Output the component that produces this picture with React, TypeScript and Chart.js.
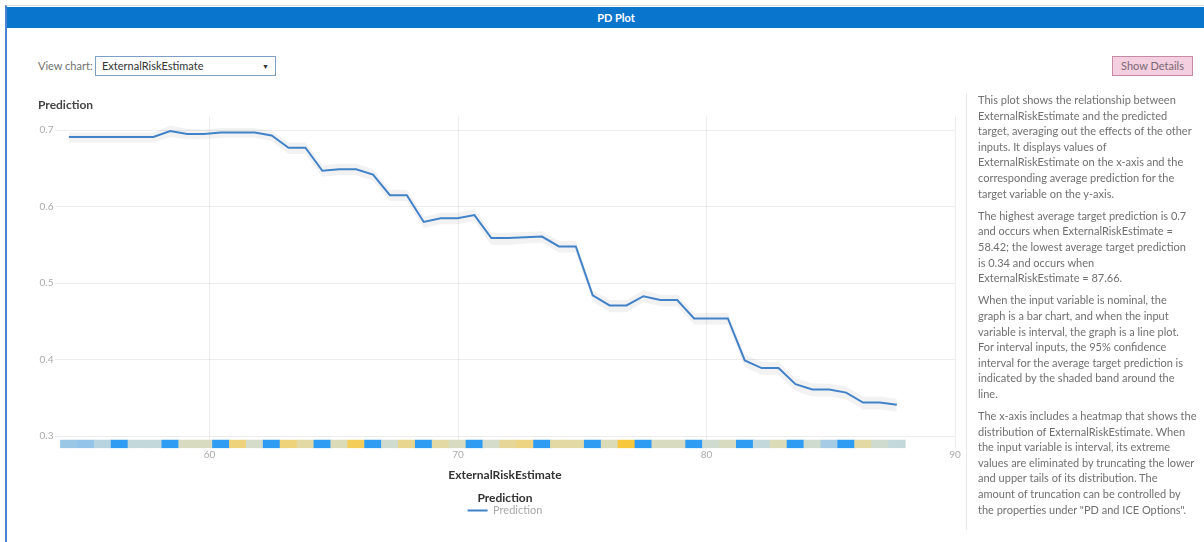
import React, { useEffect, useRef } from "react";
import { Chart, registerables } from "chart.js";

Chart.register(...registerables);

// ExternalRiskEstimate grid values (x) used by the PD computation
const xValues = [
  54.34, 55.02, 55.7, 56.38, 57.06, 57.74, 58.42, 59.1, 59.78, 60.46,
  61.14, 61.82, 62.5, 63.18, 63.86, 64.54, 65.22, 65.9, 66.58, 67.26,
  67.94, 68.62, 69.3, 69.98, 70.66, 71.34, 72.02, 72.7, 73.38, 74.06,
  74.74, 75.42, 76.1, 76.78, 77.46, 78.14, 78.82, 79.5, 80.18, 80.86,
  81.54, 82.22, 82.9, 83.58, 84.26, 84.94, 85.62, 86.3, 86.98, 87.66,
];

// Average prediction (partial dependence)
const predictions = [
  0.691, 0.691, 0.691, 0.691, 0.691, 0.691, 0.699, 0.695, 0.695, 0.697,
  0.697, 0.697, 0.693, 0.677, 0.677, 0.647, 0.649, 0.649, 0.642, 0.615,
  0.615, 0.58, 0.585, 0.585, 0.589, 0.559, 0.559, 0.56, 0.561, 0.548,
  0.548, 0.484, 0.471, 0.471, 0.483, 0.478, 0.478, 0.454, 0.454, 0.454,
  0.399, 0.389, 0.389, 0.368, 0.361, 0.361, 0.357, 0.344, 0.344, 0.341,
];

// 95% confidence band
const upperCI = [
  0.697, 0.697, 0.697, 0.697, 0.697, 0.697, 0.706, 0.702, 0.701, 0.703,
  0.703, 0.703, 0.699, 0.684, 0.684, 0.654, 0.656, 0.656, 0.649, 0.622,
  0.622, 0.587, 0.592, 0.592, 0.597, 0.566, 0.566, 0.567, 0.568, 0.555,
  0.555, 0.491, 0.478, 0.478, 0.491, 0.485, 0.485, 0.461, 0.461, 0.461,
  0.407, 0.397, 0.397, 0.376, 0.369, 0.369, 0.365, 0.352, 0.352, 0.349,
];
const lowerCI = [
  0.684, 0.684, 0.684, 0.684, 0.684, 0.684, 0.691, 0.688, 0.688, 0.69,
  0.69, 0.69, 0.686, 0.669, 0.669, 0.639, 0.641, 0.641, 0.634, 0.607,
  0.607, 0.572, 0.577, 0.577, 0.581, 0.55, 0.55, 0.552, 0.553, 0.54,
  0.54, 0.476, 0.462, 0.462, 0.475, 0.47, 0.47, 0.446, 0.446, 0.446,
  0.39, 0.38, 0.38, 0.359, 0.352, 0.352, 0.348, 0.335, 0.335, 0.332,
];

// Relative frequency of ExternalRiskEstimate per bin (0..10) for the heatmap strip
const heatLevels = [
  1.5, 1.2, 2.8, 0, 3.5, 3.5, 0, 5.5, 5.5, 0,
  8.8, 5, 0, 8.8, 7, 0, 6, 9.5, 0, 4.5,
  8, 0, 7, 5.5, 0, 5, 7.5, 8.5, 0, 7,
  7, 0, 6, 10, 0, 5.5, 5.5, 0, 4.5, 5.5,
  0, 3.5, 6, 0, 4.5, 2, 0, 7, 4.5, 3.5,
];

const xTicks = [60, 70, 80, 90];
const yTicks = [0.3, 0.4, 0.5, 0.6, 0.7];

const heatStops: [number, number[]][] = [
  [0, [47, 156, 244]],
  [1, [143, 194, 234]],
  [3, [189, 214, 223]],
  [5, [213, 220, 201]],
  [7, [227, 217, 165]],
  [9, [239, 210, 118]],
  [10, [248, 200, 60]],
];

function heatColor(v: number): string {
  for (let i = 0; i < heatStops.length - 1; i++) {
    const [a, ca] = heatStops[i];
    const [b, cb] = heatStops[i + 1];
    if (v <= b) {
      const t = (v - a) / (b - a);
      const c = ca.map((k, j) => Math.round(k + (cb[j] - k) * t));
      return `rgb(${c[0]},${c[1]},${c[2]})`;
    }
  }
  const c = heatStops[heatStops.length - 1][1];
  return `rgb(${c[0]},${c[1]},${c[2]})`;
}

const paragraphs: string[][] = [
  [
    "This plot shows the relationship between",
    "ExternalRiskEstimate and the predicted",
    "target, averaging out the effects of the other",
    "inputs. It displays values of",
    "ExternalRiskEstimate on the x-axis and the",
    "corresponding average prediction for the",
    "target variable on the y-axis.",
  ],
  [
    "The highest average target prediction is 0.7",
    "and occurs when ExternalRiskEstimate =",
    "58.42; the lowest average target prediction",
    "is 0.34 and occurs when",
    "ExternalRiskEstimate = 87.66.",
  ],
  [
    "When the input variable is nominal, the",
    "graph is a bar chart, and when the input",
    "variable is interval, the graph is a line plot.",
    "For interval inputs, the 95% confidence",
    "interval for the average target prediction is",
    "indicated by the shaded band around the",
    "line.",
  ],
  [
    "The x-axis includes a heatmap that shows the",
    "distribution of ExternalRiskEstimate. When",
    "the input variable is interval, its extreme",
    "values are eliminated by truncating the lower",
    "and upper tails of its distribution. The",
    "amount of truncation can be controlled by",
    "the properties under \"PD and ICE Options\".",
  ],
];

const FONT = "Lato, 'Open Sans', sans-serif";

export default function App() {
  const canvasRef = useRef<HTMLCanvasElement>(null);

  useEffect(() => {
    if (!canvasRef.current) return;
    Chart.defaults.font.family = FONT;
    const chart = new Chart(canvasRef.current, {
      type: "line",
      data: {
        datasets: [
          {
            label: "Prediction",
            data: xValues.map((x, i) => ({ x, y: predictions[i] })),
            borderColor: "#4182c8",
            backgroundColor: "#4182c8",
            borderWidth: 2,
            pointRadius: 0,
            fill: false,
            tension: 0,
            yAxisID: "y",
          },
          {
            label: "Upper 95% CL",
            data: xValues.map((x, i) => ({ x, y: upperCI[i] })),
            borderWidth: 0,
            borderColor: "rgba(0,0,0,0)",
            pointRadius: 0,
            fill: false,
            yAxisID: "y",
          },
          {
            label: "Lower 95% CL",
            data: xValues.map((x, i) => ({ x, y: lowerCI[i] })),
            borderWidth: 0,
            borderColor: "rgba(0,0,0,0)",
            backgroundColor: "rgba(0,0,0,0.05)",
            pointRadius: 0,
            fill: "-1",
            yAxisID: "y",
          },
          {
            type: "bar",
            label: "Distribution",
            data: xValues.map((x) => ({ x, y: [0, 0.68] })),
            backgroundColor: heatLevels.map(heatColor),
            borderWidth: 0,
            barPercentage: 1,
            categoryPercentage: 1,
            yAxisID: "yHeat",
          } as any,
        ],
      },
      options: {
        animation: false,
        responsive: true,
        maintainAspectRatio: false,
        layout: { padding: { left: 30, right: 13, top: 0, bottom: 0 } },
        plugins: {
          title: {
            display: true,
            text: "Prediction",
            align: "start",
            color: "#444",
            font: { size: 12, weight: "bold" },
            padding: { top: 10, bottom: 4 },
          },
          legend: {
            position: "bottom",
            fullSize: false,
            labels: {
              filter: (item: any) => item.datasetIndex === 0,
              usePointStyle: true,
              pointStyle: "line",
              pointStyleWidth: 20,
              boxHeight: 8,
              color: "#aaa",
              font: { size: 11 },
              padding: 1,
            },
            title: {
              display: true,
              text: "Prediction",
              color: "#333",
              font: { size: 12, weight: "bold" },
              padding: { top: 10, bottom: -3 },
            },
          },
          tooltip: { enabled: false },
        },
        scales: {
          x: {
            type: "linear",
            min: 53.78,
            max: 90,
            offset: false,
            afterBuildTicks: (s: any) => {
              s.ticks = xTicks.map((v) => ({ value: v }));
            },
            ticks: { color: "#aaa", font: { size: 10 }, padding: 1 },
            grid: { color: "rgba(0,0,0,0.07)", drawTicks: false, offset: false },
            border: { display: false },
            title: {
              display: true,
              text: "ExternalRiskEstimate",
              color: "#333",
              font: { size: 12, weight: "bold" },
              padding: { top: 6, bottom: 0 },
            },
          },
          yHeat: {
            type: "linear",
            stack: "v",
            stackWeight: 3,
            min: 0,
            max: 1,
            offset: false,
            ticks: { display: false },
            grid: { display: false },
            border: { display: false },
          },
          y: {
            type: "linear",
            stack: "v",
            stackWeight: 80,
            min: 0.3,
            max: 0.718,
            afterBuildTicks: (s: any) => {
              s.ticks = yTicks.map((v) => ({ value: v }));
            },
            ticks: {
              color: "#aaa",
              font: { size: 10 },
              padding: 1.5,
              callback: (v: any) => Number(v).toFixed(1),
            },
            grid: { color: "rgba(0,0,0,0.07)", drawTicks: false },
            border: { display: false },
          },
        },
      } as any,
    });
    return () => chart.destroy();
  }, []);

  return (
    <div
      style={{
        position: "fixed",
        left: 0,
        top: 0,
        width: 1204,
        height: 542,
        background: "#fff",
        overflow: "hidden",
        fontFamily: FONT,
      }}
    >
      <div
        style={{
          position: "absolute",
          left: 5,
          top: 5,
          width: 1240,
          height: 600,
          borderLeft: "2px solid #4a82d2",
          borderTop: "1px solid #d6dce6",
        }}
      />
      <div
        style={{
          position: "absolute",
          left: 7,
          top: 7,
          width: 1230,
          height: 21,
          background: "#0a75cc",
        }}
      />
      <div
        style={{
          position: "absolute",
          left: 0,
          top: 7,
          width: 1232,
          height: 21,
          lineHeight: "21px",
          textAlign: "center",
          color: "#fff",
          fontWeight: 700,
          fontSize: 11,
        }}
      >
        PD Plot
      </div>

      <div
        style={{
          position: "absolute",
          left: 38,
          top: 58,
          fontSize: 11,
          lineHeight: "16px",
          color: "#707070",
        }}
      >
        View chart:
      </div>
      <div
        style={{
          position: "absolute",
          left: 95,
          top: 56,
          width: 181,
          height: 20,
          boxSizing: "border-box",
          border: "1px solid #7d9fc4",
          background: "#fff",
          fontSize: 11,
          lineHeight: "18px",
          color: "#333",
          paddingLeft: 6,
        }}
      >
        ExternalRiskEstimate
        <span
          style={{
            position: "absolute",
            left: 166,
            top: 0,
            fontSize: 7,
            lineHeight: "18px",
            color: "#333",
          }}
        >
          ▼
        </span>
      </div>
      <div
        style={{
          position: "absolute",
          left: 1112,
          top: 56,
          width: 81,
          height: 20,
          boxSizing: "border-box",
          background: "#f3cfe0",
          border: "1px solid #c68aa7",
          color: "#7b6872",
          fontSize: 11,
          lineHeight: "18px",
          textAlign: "center",
        }}
      >
        Show Details
      </div>

      <div
        style={{
          position: "absolute",
          left: 8,
          top: 88,
          width: 960,
          height: 438,
        }}
      >
        <canvas ref={canvasRef} />
      </div>

      <div
        style={{
          position: "absolute",
          left: 966,
          top: 93,
          width: 1,
          height: 437,
          background: "#e8e8e8",
        }}
      />
      <div
        style={{
          position: "absolute",
          left: 978,
          top: 92,
          width: 226,
          fontSize: 11,
          lineHeight: "15.6px",
          color: "#707070",
        }}
      >
        {paragraphs.map((p, i) => (
          <div key={i} style={{ marginBottom: 6.6 }}>
            {p.map((line, j) => (
              <div key={j} style={{ whiteSpace: "nowrap" }}>
                {line}
              </div>
            ))}
          </div>
        ))}
      </div>
    </div>
  );
}
